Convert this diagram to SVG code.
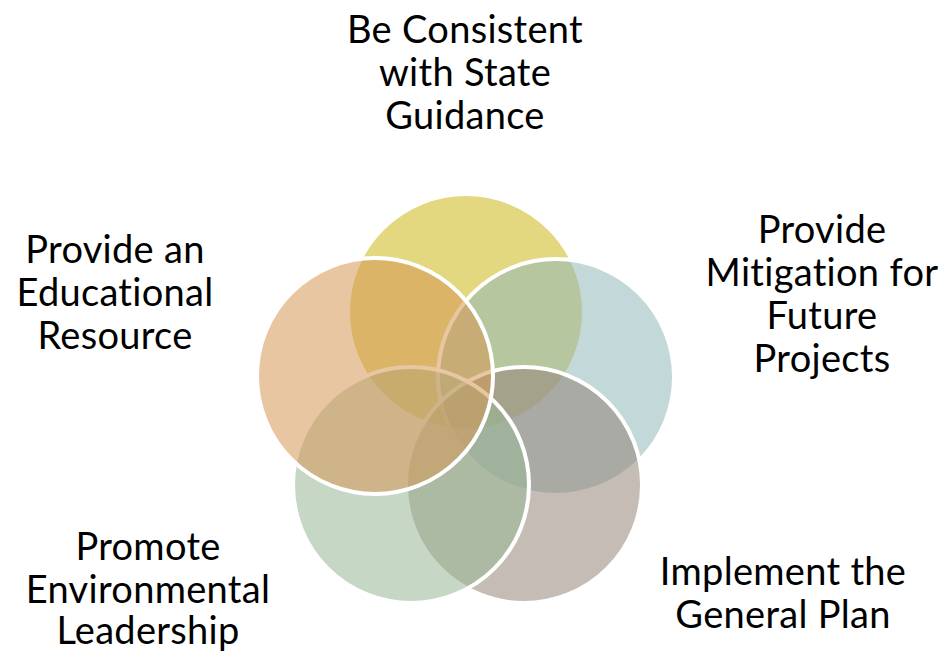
<svg xmlns="http://www.w3.org/2000/svg" width="941" height="654" viewBox="0 0 941 654">
<style>
.c{stroke:#fff;stroke-width:4;fill-opacity:0.55}
.t{font-family:Lato,"Open Sans","Liberation Sans",sans-serif;font-size:38px;letter-spacing:0.3px;fill:#000;text-anchor:middle}
</style>
<rect width="941" height="654" fill="#fff"/>
<g id="connectors"></g>
<g id="n1"><circle class="c" cx="466" cy="312" r="118" fill="#CCB816"/></g>
<g id="n2"><circle class="c" cx="556" cy="377" r="118" fill="#92B8B8"/></g>
<g id="n3"><circle class="c" cx="524" cy="485" r="118" fill="#96857A"/></g>
<g id="n4"><circle class="c" cx="411" cy="485" r="118" fill="#97B895"/></g>
<g id="n5"><circle class="c" cx="375" cy="376" r="118" fill="#D59756"/></g>
<g id="l1"><text class="t" x="465" y="43">Be Consistent</text><text class="t" x="465" y="86">with State</text><text class="t" x="465" y="129">Guidance</text></g>
<g id="l2"><text class="t" x="822" y="243">Provide</text><text class="t" x="822" y="286">Mitigation for</text><text class="t" x="822" y="329">Future</text><text class="t" x="822" y="372">Projects</text></g>
<g id="l3"><text class="t" x="783" y="585">Implement the</text><text class="t" x="783" y="628">General Plan</text></g>
<g id="l4"><text class="t" x="148" y="560">Promote</text><text class="t" x="148" y="603">Environmental</text><text class="t" x="148" y="644">Leadership</text></g>
<g id="l5"><text class="t" x="115" y="263">Provide an</text><text class="t" x="115" y="306">Educational</text><text class="t" x="115" y="349">Resource</text></g>
</svg>
